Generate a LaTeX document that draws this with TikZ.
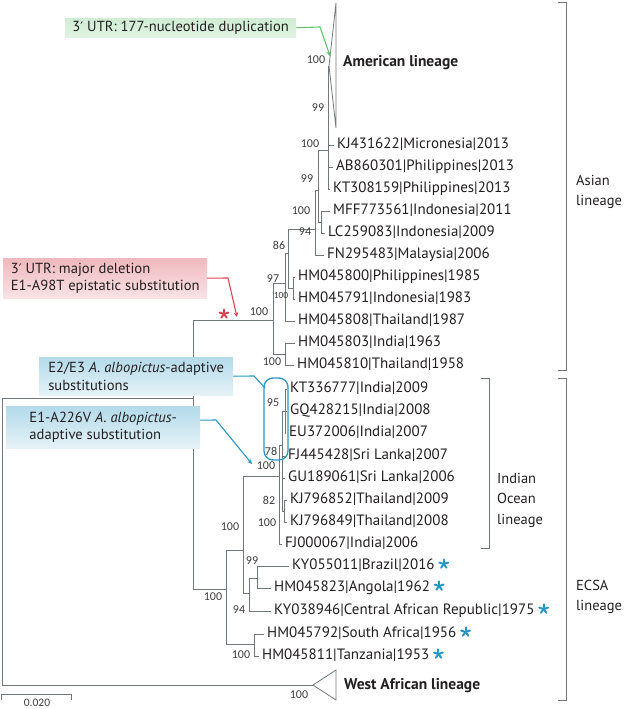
\documentclass[tikz,border=0pt]{standalone}
\usepackage{fontspec}
\setmainfont{PT Sans}
\newfontfamily\bootfont{Carlito}
\newfontfamily\primefont{DejaVu Sans}
\newcommand{\primemark}{{\primefont\fontsize{13}{15}\selectfont ′}}
\usetikzlibrary{positioning}

\definecolor{treegray}{RGB}{112,120,124}
\definecolor{inkgray}{RGB}{35,31,32}
\definecolor{bootgray}{RGB}{60,60,60}
\definecolor{notered}{RGB}{214,69,83}
\definecolor{noteblue}{RGB}{40,150,196}
\definecolor{notegreen}{RGB}{98,196,110}

\begin{document}
\begin{tikzpicture}[
    x=1pt, y=-1pt,
    every node/.style={text=inkgray},
    tree/.style={draw=treegray, line width=0.8pt},
    leaf/.style={anchor=west, inner sep=0pt, text height=10.5pt, text depth=3.2pt, font=\fontsize{15}{17}\selectfont},
    boot/.style={inner sep=0pt, text=bootgray, font=\bootfont\fontsize{12}{13}\selectfont},
    clade/.style={anchor=west, inner sep=0pt, font=\bfseries\fontsize{15.5}{17}\selectfont},
    lineage/.style={anchor=west, inner sep=0pt, align=left, font=\fontsize{14.5}{20.5}\selectfont},
    notebox/.style={anchor=north west, inner xsep=0pt, inner ysep=0pt, align=left, font=\fontsize{14.6}{17.5}\selectfont},
    notearrow/.style={line width=1.1pt, ->, >=stealth},
    ast/.pic={\foreach \a in {-90,-18,54,126,198} \draw[line width=2pt, line cap=round] (0,0) -- (\a:4.6);}
]
\useasboundingbox (0,0) rectangle (624,709);

% internal nodes
\coordinate (root) at (2,398);
\coordinate (nA) at (193,398);
\coordinate (nAsia) at (273,320);
\coordinate (n97) at (285,283);
\coordinate (n86) at (288,253);
\coordinate (n100c) at (293,288);
\coordinate (n100b) at (315,229);
\coordinate (n99) at (318,190);
\coordinate (n94) at (321,222);
\coordinate (n100a) at (328,150);
\coordinate (nHM03) at (285,354);
\coordinate (nECSA) at (226,589);
\coordinate (nIO2) at (243,550);
\coordinate (nIO) at (279,476);
\coordinate (n78) at (282,445);
\coordinate (n95) at (285,411);
\coordinate (n82) at (284,511);
\coordinate (n94e) at (249,593);
\coordinate (n99e) at (257,578);
\coordinate (nSA) at (254,644);

% collapsed lineages
\coordinate (amer) at (329,66);
\coordinate (westaf) at (313,685);
\draw[tree] (amer) -- (336,3) -- (336,128) -- cycle;
\draw[tree] (westaf) -- (336,670) -- (336,700) -- cycle;
\node[clade] (american) at (343,63) {American lineage};
\node[clade] (westafrican) at (344,686) {West African lineage};

% Asian lineage
\node[leaf] (kj431622) at (337,145) {KJ431622|Micronesia|2013};
\node[leaf] (ab860301) at (336,167) {AB860301|Philippines|2013};
\node[leaf] (kt308159) at (333,189) {KT308159|Philippines|2013};
\node[leaf] (mff773561) at (333,211) {MFF773561|Indonesia|2011};
\node[leaf] (lc259083) at (328,233) {LC259083|Indonesia|2009};
\node[leaf] (fn295483) at (327,255) {FN295483|Malaysia|2006};
\node[leaf] (hm045800) at (298,277) {HM045800|Philippines|1985};
\node[leaf] (hm045791) at (298,299) {HM045791|Indonesia|1983};
\node[leaf] (hm045808) at (298,321) {HM045808|Thailand|1987};
\node[leaf] (hm045803) at (298,343) {HM045803|India|1963};
\node[leaf] (hm045810) at (297,365) {HM045810|Thailand|1958};

% ECSA lineage
\node[leaf] (kt336777) at (290,389) {KT336777|India|2009};
\node[leaf] (gq428215) at (290,411) {GQ428215|India|2008};
\node[leaf] (eu372006) at (289,433) {EU372006|India|2007};
\node[leaf] (fj445428) at (288,456) {FJ445428|Sri Lanka|2007};
\node[leaf] (gu189061) at (288,478) {GU189061|Sri Lanka|2006};
\node[leaf] (kj796852) at (290,500) {KJ796852|Thailand|2009};
\node[leaf] (kj796849) at (290,522) {KJ796849|Thailand|2008};
\node[leaf] (fj000067) at (285,544) {FJ000067|India|2006};
\node[leaf] (ky055011) at (292,566) {KY055011|Brazil|2016};
\node[leaf] (hm045823) at (274,588) {HM045823|Angola|1962};
\node[leaf] (ky038946) at (274,611) {KY038946|Central African Republic|1975};
\node[leaf] (hm045792) at (267,634) {HM045792|South Africa|1956};
\node[leaf] (hm045811) at (262,656) {HM045811|Tanzania|1953};

% branches
\draw[tree] (root) -- (nA);
\draw[tree] (root) |- (westaf);
\draw[tree] (nA) |- (nAsia);
\draw[tree] (nA) |- (nECSA);

\draw[tree] (nAsia) |- (n97);
\draw[tree] (nAsia) |- (nHM03);
\draw[tree] (n97) |- (n86);
\draw[tree] (n97) |- ([xshift=-3pt]hm045808.west);
\draw[tree] (n86) |- (n100b);
\draw[tree] (n86) |- (n100c);
\draw[tree] (n100c) |- ([xshift=-3pt]hm045800.west);
\draw[tree] (n100c) |- ([xshift=-3pt]hm045791.west);
\draw[tree] (n100b) |- (n99);
\draw[tree] (n100b) |- ([xshift=-3pt]fn295483.west);
\draw[tree] (n99) |- (n100a);
\draw[tree] (n99) |- (n94);
\draw[tree] (n94) |- ([xshift=-3pt]mff773561.west);
\draw[tree] (n94) |- ([xshift=-3pt]lc259083.west);
\draw[tree] (n100a) |- (amer);
\draw[tree] (n100a) |- ([xshift=-3pt]kj431622.west);
\draw[tree] (n100a) |- ([xshift=-3pt]ab860301.west);
\draw[tree] (n100a) |- ([xshift=-3pt]kt308159.west);
\draw[tree] (nHM03) |- ([xshift=-3pt]hm045803.west);
\draw[tree] (nHM03) |- ([xshift=-3pt]hm045810.west);

\draw[tree] (nECSA) |- (nIO2);
\draw[tree] (nECSA) |- (nSA);
\draw[tree] (nIO2) |- (nIO);
\draw[tree] (nIO2) |- (n94e);
\draw[tree] (nIO) |- (n78);
\draw[tree] (nIO) |- ([xshift=-3pt]fj000067.west);
\draw[tree] (n78) |- (n95);
\draw[tree] (n78) |- ([xshift=-3pt]fj445428.west);
\draw[tree] (n78) |- ([xshift=-3pt]gu189061.west);
\draw[tree] (n78) |- (n82);
\draw[tree] (n95) |- ([xshift=-3pt]kt336777.west);
\draw[tree] (n95) |- ([xshift=-3pt]gq428215.west);
\draw[tree] (n95) |- ([xshift=-3pt]eu372006.west);
\draw[tree] (n82) |- ([xshift=-3pt]kj796852.west);
\draw[tree] (n82) |- ([xshift=-3pt]kj796849.west);
\draw[tree] (n94e) |- (n99e);
\draw[tree] (n94e) |- ([xshift=-3pt]ky038946.west);
\draw[tree] (n99e) |- ([xshift=-3pt]ky055011.west);
\draw[tree] (n99e) |- ([xshift=-3pt]hm045823.west);
\draw[tree] (nSA) |- ([xshift=-3pt]hm045792.west);
\draw[tree] (nSA) |- ([xshift=-3pt]hm045811.west);

% bootstrap values
\foreach \x/\y/\v [count=\i] in {316/60/100, 318/108/99, 310/144/100, 307/179/99, 301/211/100,
    305/232/94, 279/245/86, 273/279/97, 259/312/100, 272/362/100, 273/403/95, 271/451/78,
    266/466/100, 230/527/100, 269/500/82, 267/523/100, 252/561/99, 239/610/94, 213/597/100,
    241/655/100, 299/695/100}
  \node[boot] (bs\i) at (\x,\y) {\v};
\node[boot, font=\bootfont\fontsize{9.5}{10}\selectfont] (bssmall) at (281,295) {100};

% lineage brackets
\draw[tree] (558,2) -- (566,2) -- (566,370) -- (558,370);
\draw[tree] (481,378) -- (489,378) -- (489,548) -- (481,548);
\draw[tree] (558,378) -- (566,378) -- (566,700) -- (558,700);
\node[lineage] (asianlab) at (576,192) {Asian\\lineage};
\node[lineage] (iolab) at (497,500) {Indian\\Ocean\\lineage};
\node[lineage] (ecsalab) at (576,597) {ECSA\\lineage};

% scale bar
\draw[tree] (1,700) -- (1,694) -- (71,694) -- (71,700);
\node[boot, font=\bootfont\fontsize{11.5}{12}\selectfont] (scalelab) at (37,703) {0.020};

% blue asterisks
\foreach \leaf in {ky055011, hm045823, ky038946, hm045792, hm045811}
  \pic[noteblue] at ([xshift=9pt, yshift=2pt]\leaf.east) {ast};

% annotations
\node[notebox, shade, top color=notegreen!30, bottom color=notegreen!20, minimum width=231pt, minimum height=19pt] (dupnote) at (65,18) {3\primemark{} UTR: 177-nucleotide duplication};
\coordinate (dupbend) at (320,27);
\coordinate (duphit) at (330,56);
\draw[notearrow, notegreen] (dupnote.east) -- (dupbend) -- (duphit);

\node[notebox, shade, top color=notered!38, bottom color=notered!15, minimum width=204pt, minimum height=40pt] (delnote) at (3,258) {3\primemark{} UTR: major deletion\\E1-A98T epistatic substitution};
\coordinate (delbend) at (228,278);
\coordinate (delhit) at (237,317);
\draw[notearrow, notered] (delnote.east) -- (delbend) -- (delhit);
\pic[notered] at (224,314) {ast};

\node[draw=noteblue, line width=1.3pt, rounded corners=9pt, minimum width=24pt, minimum height=82pt, inner sep=0pt] (ioring) at (276,419) {};
\node[notebox, shade, top color=noteblue!35, bottom color=noteblue!12, minimum width=194pt, minimum height=38pt] (e2e3note) at (39,357) {E2/E3 \textit{A. albopictus}-adaptive\\substitutions};
\coordinate (e2e3bend) at (254,376);
\coordinate (e2e3hit) at (265,388);
\draw[line width=1.1pt, noteblue] (e2e3note.east) -- (e2e3bend) -- (e2e3hit);

\node[notebox, shade, top color=noteblue!35, bottom color=noteblue!12, minimum width=194pt, minimum height=42pt] (a226vnote) at (6,406) {E1-A226V \textit{A. albopictus}-\\adaptive substitution};
\coordinate (a226vbend) at (216,420);
\coordinate (a226vhit) at (252,464);
\draw[notearrow, noteblue] ([yshift=7pt]a226vnote.east) -- (a226vbend) -- (a226vhit);
\end{tikzpicture}
\end{document}
